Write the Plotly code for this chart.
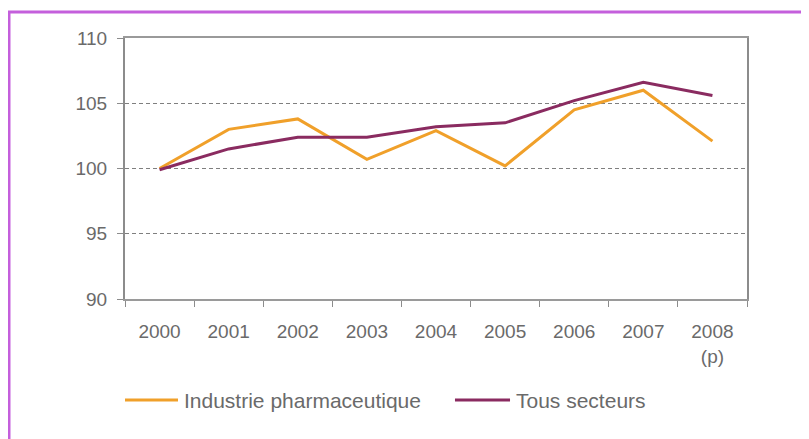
import plotly.graph_objects as go

years = ["2000", "2001", "2002", "2003", "2004", "2005", "2006", "2007", "2008"]
tick_labels = ["2000", "2001", "2002", "2003", "2004", "2005", "2006", "2007", "2008<br>(p)"]
pharma = [100.0, 103.0, 103.8, 100.7, 102.9, 100.2, 104.5, 106.0, 102.1]
tous = [99.9, 101.5, 102.4, 102.4, 103.2, 103.5, 105.2, 106.6, 105.6]
series_names = ["Industrie pharmaceutique", "Tous secteurs"]
colors = ["#F0A02A", "#8A2B60"]

fig = go.Figure()
fig.add_trace(go.Scatter(x=years, y=pharma, mode="lines", name=series_names[0],
                         line=dict(color=colors[0], width=3), showlegend=False))
fig.add_trace(go.Scatter(x=years, y=tous, mode="lines", name=series_names[1],
                         line=dict(color=colors[1], width=3), showlegend=False))

# custom legend (line sample + label)
leg_y = -0.387
leg_items = [(0.0, 0.0852, 0.0916), (0.5305, 0.619, 0.6254)]
shapes = [dict(type="rect", xref="paper", yref="paper",
               x0=-0.1865, x1=1.3, y0=-0.8, y1=1.0996,
               line=dict(color="#C45FDC", width=3), layer="below")]
annotations = []
for (x0, x1, xt), name, col in zip(leg_items, series_names, colors):
    shapes.append(dict(type="line", xref="paper", yref="paper", x0=x0, x1=x1,
                       y0=leg_y, y1=leg_y, line=dict(color=col, width=3)))
    annotations.append(dict(text=name, xref="paper", yref="paper", x=xt, y=leg_y,
                            xanchor="left", yanchor="middle", showarrow=False,
                            font=dict(size=21, color="#6a6a6a")))

fig.update_layout(
    width=809, height=439,
    margin=dict(l=117, r=70, t=30, b=148),
    paper_bgcolor="white", plot_bgcolor="white",
    font=dict(family="Liberation Sans, Arial, sans-serif", color="#6a6a6a", size=19),
    showlegend=False,
    shapes=shapes,
    annotations=annotations,
)
fig.update_xaxes(
    type="category", tickvals=years, ticktext=tick_labels,
    tickson="boundaries", ticks="outside", ticklen=6, tickcolor="#8c8c8c",
    showline=True, linecolor="#9a9a9a", linewidth=2, mirror=True,
    showgrid=False, range=[-0.5, 8.5], tickfont=dict(size=19, color="#6a6a6a"),
    ticklabelstandoff=14,
)
fig.update_yaxes(
    range=[90, 110], dtick=5, tick0=90, ticks="outside", ticklen=6, tickcolor="#8c8c8c",
    showline=True, linecolor="#8c8c8c", linewidth=2, mirror=True,
    showgrid=True, gridcolor="#7f7f7f", griddash="4px,3px", gridwidth=1.2,
    zeroline=False, tickfont=dict(size=19, color="#6a6a6a"),
    ticklabelstandoff=6,
)
fig.write_html("out.html")
